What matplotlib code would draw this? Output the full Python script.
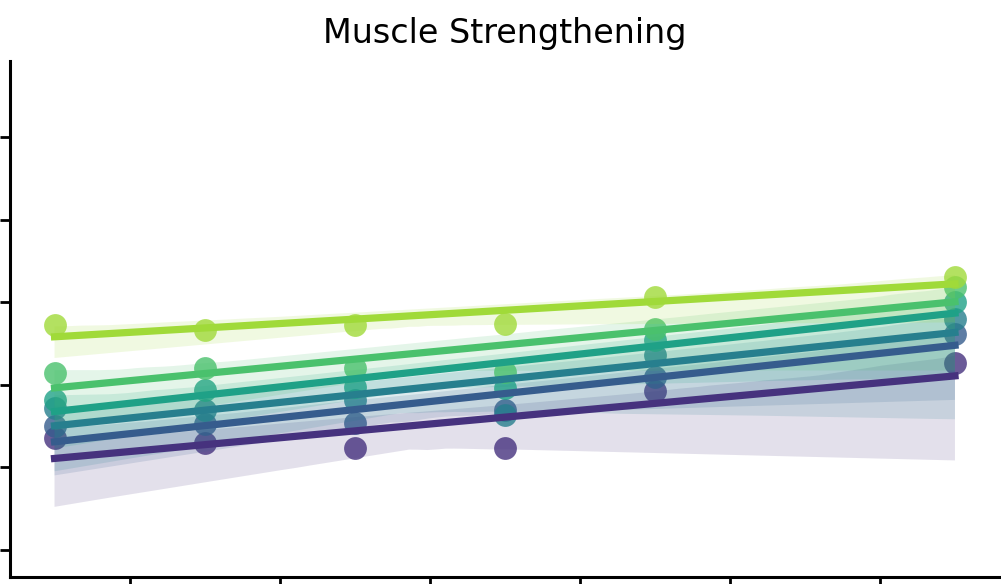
import matplotlib
matplotlib.use("Agg")
import matplotlib.pyplot as plt
import seaborn as sns

# survey years and share of adults (%) meeting the muscle strengthening guideline
years = [2011, 2013, 2015, 2017, 2019, 2023]

under_15k = [21.8, 21.5, 21.2, 21.2, 24.6, 26.3]
from_15k = [22.5, 22.6, 22.7, 23.5, 25.5, 28.1]
from_25k = [23.6, 23.5, 24.1, 23.2, 26.8, 29.0]
from_35k = [24.1, 24.7, 24.9, 24.8, 27.7, 30.0]
from_50k = [25.7, 26.0, 26.0, 25.8, 28.4, 30.9]
over_75k = [28.6, 28.3, 28.6, 28.7, 30.3, 31.5]

groups = [under_15k, from_15k, from_25k, from_35k, from_50k, over_75k]
colors = sns.color_palette("viridis", len(groups))

fig = plt.figure(figsize=(10.01, 5.84), dpi=100)
ax = fig.add_axes([0.0095, 0.012, 0.9895, 0.8835])

# one regression (with bootstrapped CI band) per income group
for vals, col in zip(groups, colors):
    sns.regplot(x=years, y=vals, ax=ax, color=col, seed=7,
                scatter_kws={"s": 270, "alpha": 0.8, "linewidths": 0},
                line_kws={"lw": 5.2})

ax.set_xlim(2010.4, 2023.6)
ax.set_xticks([2012, 2014, 2016, 2018, 2020, 2022])
ax.set_ylim(13.37, 44.6)
ax.set_yticks([15, 20, 25, 30, 35, 40])
ax.set_title("Muscle Strengthening", fontsize=24, pad=13)

sns.despine(ax=ax)
for side in ["left", "bottom"]:
    ax.spines[side].set_linewidth(2.2)
ax.tick_params(length=7, width=2, labelsize=18, pad=6)

fig.savefig("out.png", dpi=100)
